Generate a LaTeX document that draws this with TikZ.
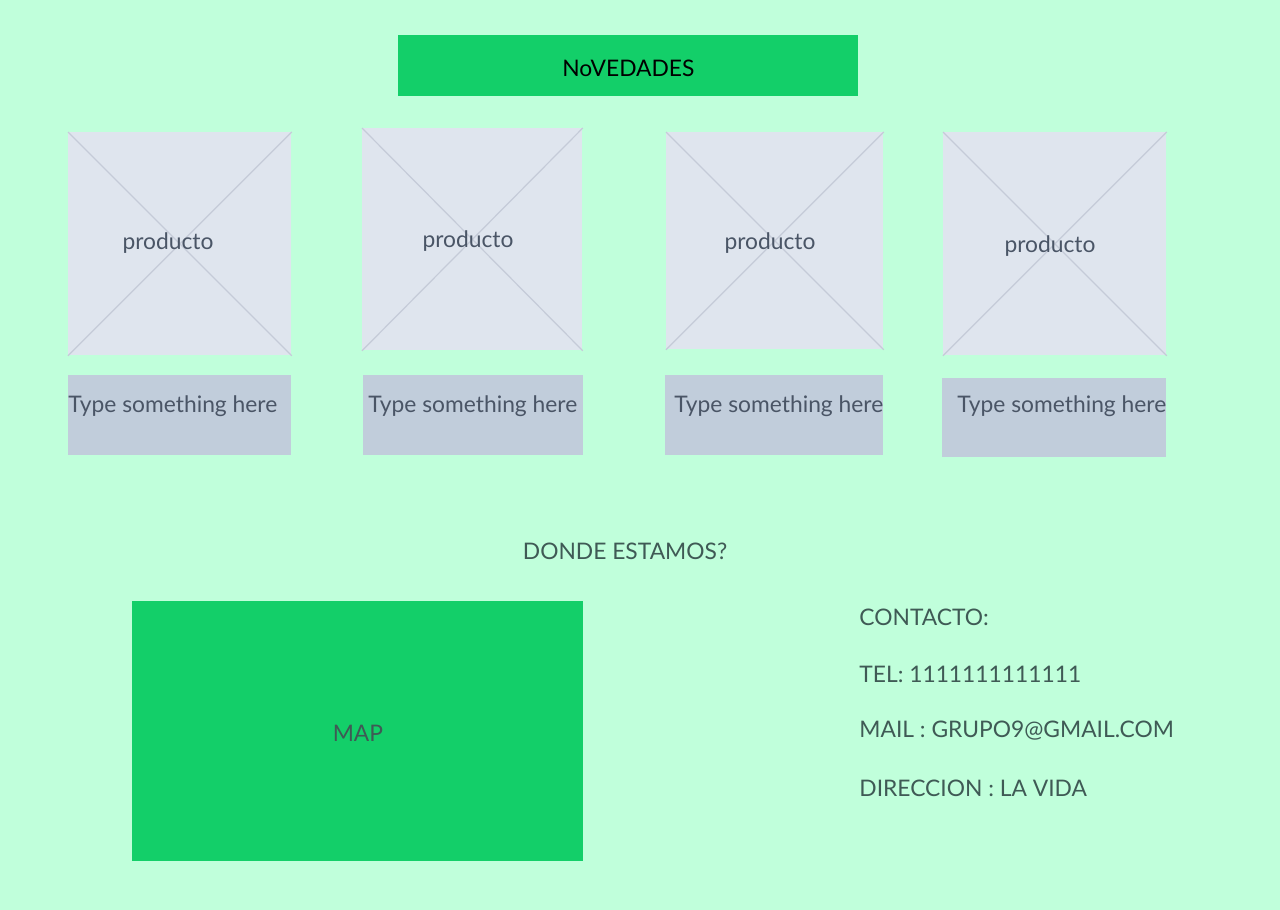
\documentclass[tikz,border=0pt]{standalone}
\usepackage{fontspec}
\setmainfont{Lato}
\usepackage{xcolor}
\usetikzlibrary{positioning}

\definecolor{bgmint}{HTML}{C0FFDB}
\definecolor{brandgreen}{HTML}{13CF69}
\definecolor{imgfill}{HTML}{DFE5EE}
\definecolor{imgline}{HTML}{C5CBD8}
\definecolor{capfill}{HTML}{C1CDDB}
\definecolor{greytext}{HTML}{4A5566}
\definecolor{darktext}{HTML}{3F5A55}

\begin{document}
\begin{tikzpicture}[x=0.5pt,y=-0.5pt]
\tikzstyle{banner} = [fill = brandgreen, inner sep = 0pt, anchor = north west]
\tikzstyle{imgbox} = [fill = imgfill, inner sep = 0pt, anchor = north west]
\tikzstyle{capbox} = [fill = capfill, inner sep = 0pt, anchor = north west]
\tikzstyle{txt} = [inner sep = 0pt, yshift = -1pt, font = \fontsize{11.4}{14}\selectfont, text = greytext]
\tikzstyle{contact} = [txt, anchor = west, text = darktext]
% background
\fill[bgmint] (0,0) rectangle (1280,910);
\useasboundingbox (0,0) rectangle (1280,910);
% title
\node[banner, minimum width = 230pt, minimum height = 30.5pt] (nov) at (398,35) {};
\node[txt, text = black] (novtxt) at (nov.center) {NoVEDADES};
% productos
\node[imgbox, minimum width = 111.5pt, minimum height = 111.5pt] (p1) at (68,132) {};
\node[imgbox, minimum width = 110pt, minimum height = 111pt] (p2) at (362,128) {};
\node[imgbox, minimum width = 108.5pt, minimum height = 108.5pt] (p3) at (666,132) {};
\node[imgbox, minimum width = 111.5pt, minimum height = 111.5pt] (p4) at (943,132) {};
\foreach \p in {p1,p2,p3,p4}{
	\draw[imgline, line width = 0.6pt] (\p.north west) -- (\p.south east);
	\draw[imgline, line width = 0.6pt] (\p.north east) -- (\p.south west);
}
\node[txt] (l1) at (168,241) {producto};
\node[txt] (l2) at (468,239) {producto};
\node[txt] (l3) at (770,241) {producto};
\node[txt] (l4) at (1050,244) {producto};
% textos
\node[capbox, minimum width = 111.5pt, minimum height = 40pt] (c1) at (68,375) {};
\node[capbox, minimum width = 110pt, minimum height = 40pt] (c2) at (363,375) {};
\node[capbox, minimum width = 109pt, minimum height = 40pt] (c3) at (665,375) {};
\node[capbox, minimum width = 112pt, minimum height = 39.5pt] (c4) at (942,378) {};
\node[txt, anchor = west] (t1) at (68,404) {Type something here};
\node[txt, anchor = west] (t2) at (368,404) {Type something here};
\node[txt, anchor = west] (t3) at (674,404) {Type something here};
\node[txt, anchor = west] (t4) at (957,404) {Type something here};
% ubicacion
\node[txt, text = darktext] (donde) at (625,549) {DONDE ESTAMOS?};
\node[banner, minimum width = 225.5pt, minimum height = 130pt] (map) at (132,601) {};
\node[txt, text = darktext] (maptxt) at (map.center) {MAP};
\node[contact] (k1) at (859,615) {CONTACTO:};
\node[contact] (k2) at (859,672) {TEL: 1111111111111};
\node[contact] (k3) at (859,729) {MAIL~:~GRUPO9@GMAIL.COM};
\node[contact] (k4) at (859,786) {DIRECCION~:~LA VIDA};
\end{tikzpicture}
\end{document}
